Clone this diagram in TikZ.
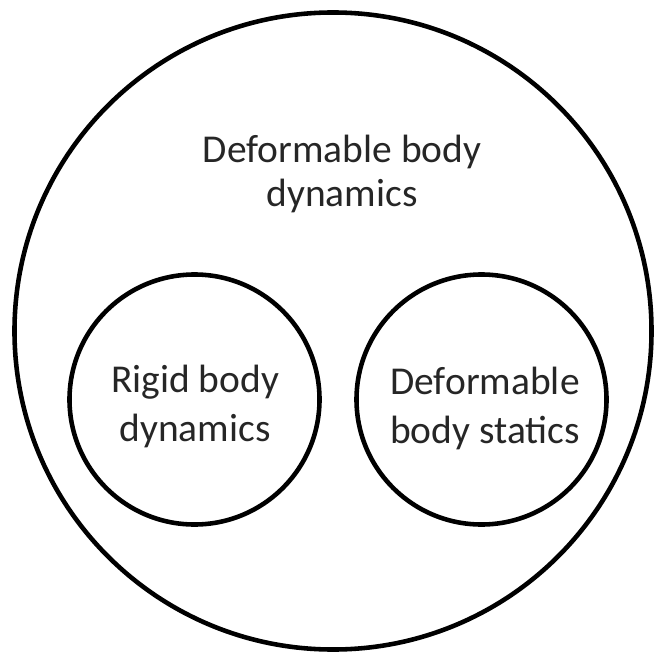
\documentclass[tikz,border=0pt]{standalone}
\usepackage{fontspec}
\setmainfont{Carlito}
\usepackage{tikz}
\usetikzlibrary{positioning}

\begin{document}
\begin{tikzpicture}[x=0.03cm,y=-0.03cm,
  setcircle/.style={circle,draw=black,line width=3.9pt,inner sep=0pt,minimum size=#1},
  setlabel/.style={align=center,anchor=base,text=black!85,
                   font=\fontsize{33.7}{41}\selectfont}
]
  \useasboundingbox (0,0) rectangle (654,655);
  % the three sets
  \node[setcircle=19.11cm](deform) at (333,331) {};
  \node[setcircle=7.5cm](rigid) at (194.5,399.5) {};
  \node[setcircle=7.5cm](statics) at (481.5,399.5) {};
  % their names
  \node[setlabel,font=\fontsize{33.7}{38}\selectfont](deformtxt) at (342,207) {Deformable body\\dynamics};
  \node[setlabel](rigidtxt) at (195,441) {Rigid body\\dynamics};
  \node[setlabel](staticstxt) at (485,443) {Deformable\\body statics};
\end{tikzpicture}
\end{document}
